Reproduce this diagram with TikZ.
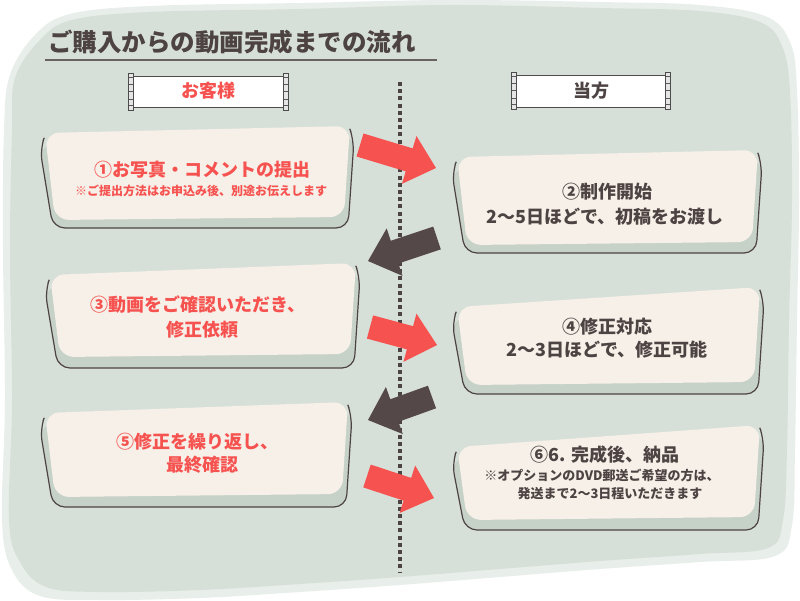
\documentclass[tikz,border=0pt]{standalone}
\usepackage{fontspec}
\setmainfont{Noto Sans CJK JP}
\usetikzlibrary{calc}
\definecolor{bgc}{RGB}{215,224,216}
\definecolor{bgedge}{RGB}{232,238,233}
\definecolor{cream}{RGB}{247,240,232}
\definecolor{shadowc}{RGB}{198,210,200}
\definecolor{ink}{RGB}{77,67,67}
\definecolor{arrowdark}{RGB}{85,72,72}
\definecolor{redc}{RGB}{246,82,80}
\definecolor{rulec}{RGB}{105,98,98}

\newcommand\flowbox[6]{% L, Tl, R, Tr, B, OB
  \fill[shadowc, rounded corners=12pt] (#1-5,#2+12) -- (#3+4,#4+10) -- (#3-2,#6) -- (#1+8,#6) -- cycle;
  \draw[ink, line width=1.2pt, rounded corners=12pt] (#1-2,#2+8) -- (#1-5,#2+16) -- (#1+8,#6) -- (#3-2,#6) -- (#3+4,#4+14) -- (#3+1,#4+6);
  \fill[cream, rounded corners=14pt] (#1,#2) -- (#3,#4) -- (#3-6,#5-3) -- (#1+10,#5) -- cycle;
}
\newcommand\blockarrow[3]{% colour, tail, tip
  \path ($(#3)!28pt!(#2)$) coordinate (#3h);
  \fill[#1] ($(#2)!12pt!90:(#3)$) -- ($(#3h)!12pt!90:(#3)$) -- ($(#3h)!25pt!90:(#3)$) -- (#3)
    -- ($(#3h)!25pt!-90:(#3)$) -- ($(#3h)!12pt!-90:(#3)$) -- ($(#2)!12pt!-90:(#3)$) -- cycle;
}
\newcommand\bannercap[3]{% x, ytop, ybottom
  \fill[gray!20] (#1-2.5,#2) rectangle (#1+2.5,#3);
  \foreach \yy in {0.12,0.3,0.5,0.7,0.88} {\draw[gray!70!black, line width=0.4pt] (#1-2.5,{#2+\yy*(#3-#2)}) -- (#1+2.5,{#2+\yy*(#3-#2)});}
  \draw[gray!60!black, line width=0.6pt] (#1-2.5,#2) rectangle (#1+2.5,#3);
}
\tikzset{
  ttl/.style={font=\fontsize{24.5}{26}\selectfont\bfseries, text=ink, inner sep=0pt},
  bt/.style={font=\fontsize{18}{20}\selectfont\bfseries, inner sep=0pt},
  bs/.style={font=\fontsize{12}{14}\selectfont\bfseries, inner sep=0pt},
  bs2/.style={font=\fontsize{13}{15}\selectfont\bfseries, inner sep=0pt},
  ban/.style={font=\fontsize{18}{20}\selectfont\bfseries, inner sep=0pt},
}
\begin{document}
\begin{tikzpicture}[x=1pt,y=-1pt]
\useasboundingbox (0,0) rectangle (800,600);
\fill[white] (0,0) rectangle (800,600);
% background blob
\fill[bgedge] plot[smooth cycle, tension=0.6] coordinates {
 (10,75) (35,35) (70,14) (150,6) (300,3) (450,0) (600,2) (700,5) (765,16) (790,42) (797,90)
 (799,200) (797,320) (795,450) (792,525) (775,556) (700,562) (600,569) (500,577) (400,585)
 (300,592) (200,598) (100,600) (40,596) (12,570) (2,520) (5,400) (3,250) (4,130)};
\fill[bgc] plot[smooth cycle, tension=0.6] coordinates {
 (15,78) (40,40) (72,20) (150,12) (300,9) (450,5) (600,8) (700,11) (760,22) (782,46) (790,92)
 (792,200) (789,320) (787,450) (783,520) (768,548) (700,554) (600,561) (500,569) (400,577)
 (300,584) (200,590) (100,592) (46,587) (20,562) (9,520) (12,400) (10,250) (12,130)};
% title
\node[ttl] (title) at (232,42) {ご購入からの動画完成までの流れ};
\coordinate (ul1) at (45,60); \coordinate (ul2) at (437,60);
\draw[rulec, line width=1.3pt] (ul1) -- (ul2);
% dotted divider
\coordinate (dtop) at (400,82); \coordinate (dbot) at (400,572);
\draw[ink, line width=3.5pt, dash pattern=on 4pt off 3.2pt] (dtop) -- (dbot);
% boxes
\flowbox{45}{133}{350}{126}{220}{228}
\flowbox{457}{157}{758}{150}{245}{253}
\flowbox{50}{275}{356}{263}{357}{368}
\flowbox{457}{307}{760}{287}{385}{394}
\flowbox{45}{413}{348}{402}{497}{507}
\flowbox{457}{447}{760}{425}{520}{530}
% arrows
\coordinate (r1a) at (360,145); \coordinate (r1b) at (436,168);
\coordinate (d1a) at (437,238); \coordinate (d1b) at (368,261);
\coordinate (r2a) at (370,327); \coordinate (r2b) at (437,345);
\coordinate (d2a) at (432,397); \coordinate (d2b) at (368,420);
\coordinate (r3a) at (367,476); \coordinate (r3b) at (434,498);
\blockarrow{redc}{r1a}{r1b}
\blockarrow{arrowdark}{d1a}{d1b}
\blockarrow{redc}{r2a}{r2b}
\blockarrow{arrowdark}{d2a}{d2b}
\blockarrow{redc}{r3a}{r3b}
% banners
\draw[gray!60!black, line width=0.6pt, fill=white] (131,76) rectangle (286,107);
\bannercap{131}{73}{110}
\bannercap{286}{73}{110}
\node[ban, text=redc] (cust) at (208,91) {お客様};
\draw[gray!60!black, line width=0.6pt, fill=white] (514,75) rectangle (668,107);
\bannercap{514}{72}{109}
\bannercap{668}{72}{109}
\node[ban, text=ink] (us) at (591,91) {当方};
% box texts
\node[bt, text=redc] (b1a) at (202,170) {①お写真・コメントの提出};
\node[bs, text=redc] (b1b) at (201,191) {※ご提出方法はお申込み後、別途お伝えします};
\node[bt, text=ink] (b2a) at (607,192) {②制作開始};
\node[bt, text=ink] (b2b) at (605,217) {2〜5日ほどで、初稿をお渡し};
\node[bt, text=redc] (b3a) at (198,305) {③動画をご確認いただき、};
\node[bt, text=redc] (b3b) at (202,330) {修正依頼};
\node[bt, text=ink] (b4a) at (607,327) {④修正対応};
\node[bt, text=ink] (b4b) at (607,350) {2〜3日ほどで、修正可能};
\node[bt, text=redc] (b5a) at (197,442) {⑤修正を繰り返し、};
\node[bt, text=redc] (b5b) at (202,465) {最終確認};
\node[bt, text=ink] (b6a) at (605,455) {⑥6. 完成後、納品};
\node[bs2, text=ink] (b6b) at (602,475) {※オプションのDVD郵送ご希望の方は、};
\node[bs2, text=ink] (b6c) at (610,494) {発送まで2〜3日程いただきます};
\end{tikzpicture}
\end{document}
